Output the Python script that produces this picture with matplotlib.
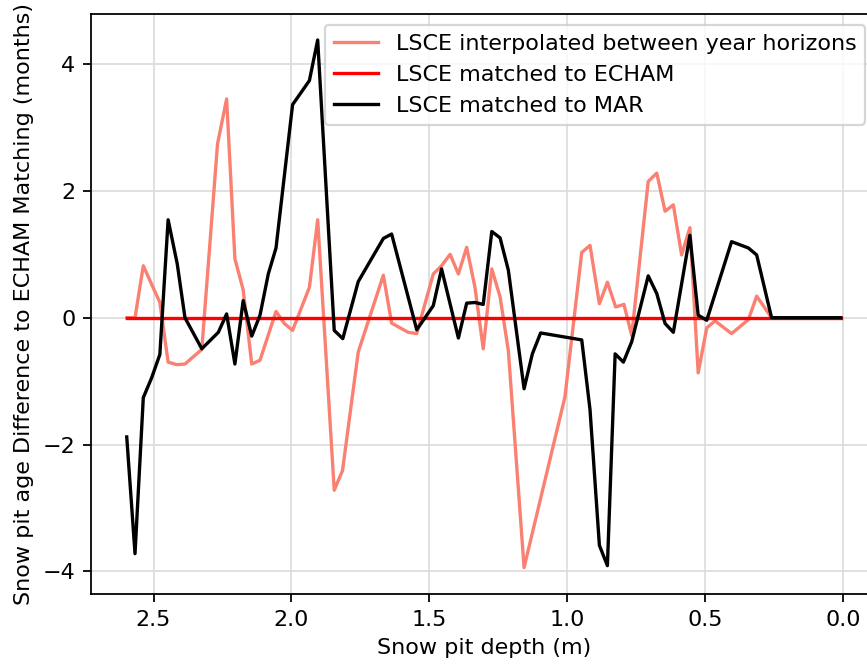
import matplotlib
matplotlib.use('Agg')
import matplotlib.pyplot as plt

# LSCE interpolated between year horizons (depth in m, difference in months)
depth_interp = [2.597, 2.567, 2.537, 2.477, 2.447, 2.416, 2.386, 2.325, 2.268, 2.235,
                2.205, 2.175, 2.144, 2.114, 2.056, 2.026, 1.996, 1.935, 1.905, 1.845,
                1.815, 1.758, 1.667, 1.637, 1.577, 1.546, 1.486, 1.456, 1.425, 1.395,
                1.365, 1.335, 1.305, 1.274, 1.244, 1.214, 1.157, 1.009, 0.948, 0.918,
                0.884, 0.855, 0.825, 0.795, 0.767, 0.707, 0.676, 0.646, 0.616, 0.586,
                0.556, 0.526, 0.495, 0.465, 0.405, 0.344, 0.314, 0.260, 0.009]
diff_interp = [0.0, 0.0, 0.82, 0.24, -0.70, -0.74, -0.73, -0.50, 2.74, 3.45,
               0.93, 0.44, -0.73, -0.67, 0.10, -0.09, -0.20, 0.48, 1.545, -2.72,
               -2.41, -0.54, 0.67, -0.085, -0.23, -0.25, 0.69, 0.82, 1.00, 0.69,
               1.11, 0.48, -0.49, 0.77, 0.33, -0.52, -3.94, -1.25, 1.03, 1.14,
               0.22, 0.56, 0.17, 0.21, -0.28, 2.15, 2.28, 1.68, 1.78, 0.99,
               1.42, -0.87, -0.16, -0.05, -0.25, -0.03, 0.34, 0.0, 0.0]

# LSCE matched to ECHAM (reference, always zero)
depth_echam = [2.597, 0.009]
diff_echam = [0.0, 0.0]

# LSCE matched to MAR
depth_mar = [2.597, 2.567, 2.537, 2.507, 2.477, 2.447, 2.414, 2.386, 2.325, 2.265,
             2.235, 2.205, 2.175, 2.144, 2.114, 2.084, 2.056, 1.996, 1.935, 1.905,
             1.845, 1.814, 1.758, 1.667, 1.637, 1.546, 1.486, 1.456, 1.395, 1.365,
             1.335, 1.305, 1.274, 1.244, 1.214, 1.157, 1.127, 1.097, 0.948, 0.918,
             0.884, 0.855, 0.827, 0.797, 0.767, 0.707, 0.676, 0.646, 0.616, 0.556,
             0.526, 0.495, 0.405, 0.344, 0.314, 0.260, 0.009]
diff_mar = [-1.88, -3.72, -1.26, -0.95, -0.58, 1.545, 0.85, 0.0, -0.49, -0.23,
            0.06, -0.73, 0.27, -0.29, 0.04, 0.69, 1.10, 3.36, 3.74, 4.38,
            -0.20, -0.33, 0.57, 1.25, 1.32, -0.19, 0.19, 0.77, -0.32, 0.23,
            0.24, 0.21, 1.36, 1.26, 0.75, -1.12, -0.57, -0.24, -0.35, -1.45,
            -3.59, -3.91, -0.57, -0.70, -0.38, 0.66, 0.38, -0.09, -0.23, 1.30,
            0.04, -0.04, 1.20, 1.10, 0.99, 0.0, 0.0]

dpi = 160
fig = plt.figure(figsize=(867 / dpi, 664 / dpi), dpi=dpi)
# axes run a bit past the right edge of the picture, like the reference crop
ax = fig.add_axes([0.105, 0.1055, 0.906, 0.874])

ax.plot(depth_interp, diff_interp, color='salmon', label='LSCE interpolated between year horizons')
ax.plot(depth_echam, diff_echam, color='red', label='LSCE matched to ECHAM')
ax.plot(depth_mar, diff_mar, color='black', label='LSCE matched to MAR')

ax.invert_xaxis()
ax.grid(True, color='#dddddd')
ax.set_axisbelow(True)
ax.set_xlabel('Snow pit depth (m)')
ax.set_ylabel('Snow pit age Difference to ECHAM Matching (months)')
ax.legend(loc='upper right')

fig.savefig('out.png', dpi=dpi)
